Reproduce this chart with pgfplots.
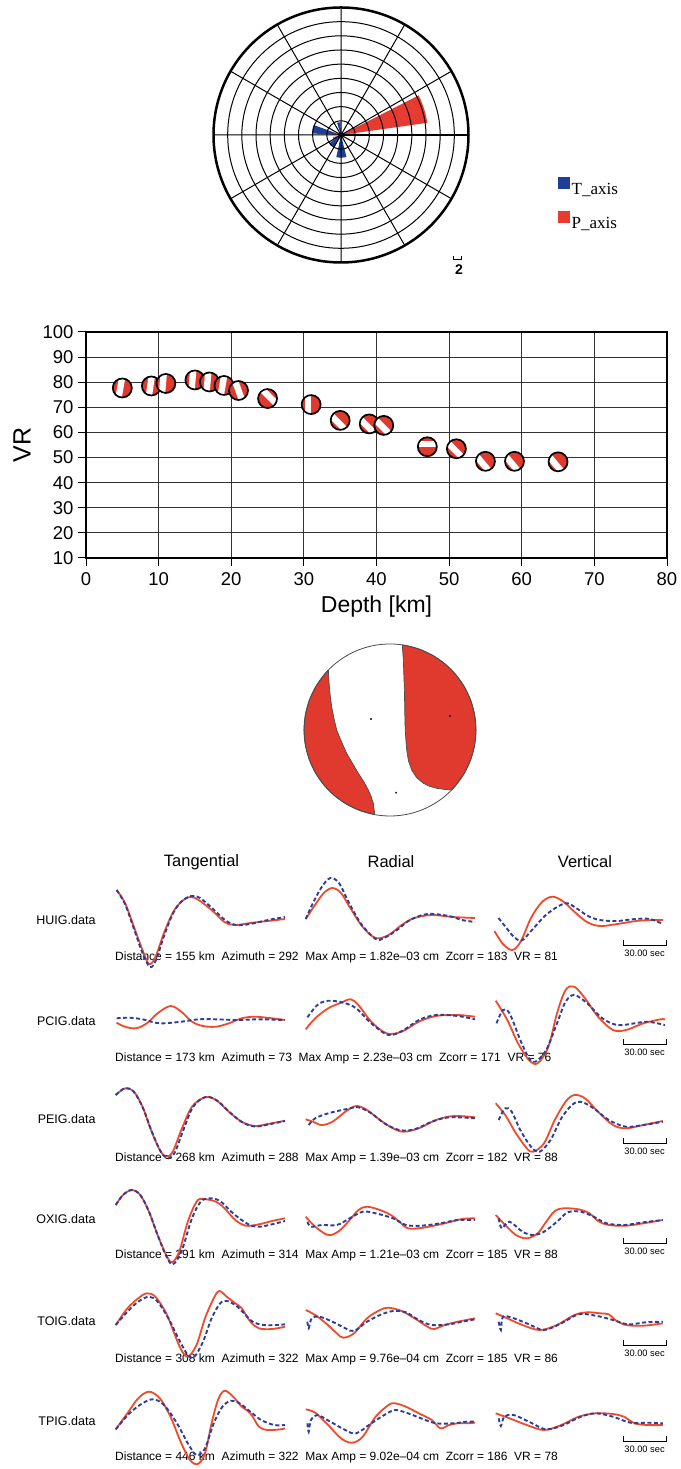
\documentclass[border=0pt]{standalone}
\usepackage{fontspec}
\setmainfont{Liberation Sans}
\newfontfamily\serif{Liberation Serif}
\usepackage{pgfplots}
\usepackage{pgfplotstable}
\pgfplotsset{compat=1.18}
\usepgfplotslibrary{polar}

\definecolor{bbred}{HTML}{E0392D}
\definecolor{pred}{HTML}{E53B31}
\definecolor{tblue}{HTML}{1F3E96}
\definecolor{wred}{HTML}{F04A2A}
\definecolor{wblue}{HTML}{2C3E9C}

% depth, VR, orientation of the white band (deg), band offset (pt)
\pgfplotstableread{
depth vr   rot off
5     77.7 -10 -2
9     78.5 -8  -1
11    79.5 -5  -3
15    80.9 -5  -2.5
17    80.1 -5  -2
19    78.7 -10 -1.5
21    76.7 20  0
25    73.5 45  2.5
31    71.1 0   -3
35    64.8 45  -3
39    63.4 45  -3
41    62.8 45  -2
47    54.3 90  2.5
51    53.5 45  -2
55    48.5 40  -3.5
59    48.5 40  -3.5
65    48.3 40  -3.5
}\balls

\def\bbrot{0}\def\bboff{0}
% small focal sphere: red disc, white band, black rim (pgf level only)
\pgfdeclareplotmark{bball}{%
  \begin{pgfscope}
    \pgfsetfillcolor{bbred}%
    \pgfpathcircle{\pgfpointorigin}{9.5pt}\pgfusepath{fill}%
    \begin{pgfscope}
      \pgfpathcircle{\pgfpointorigin}{9.5pt}\pgfusepath{clip}%
      \pgftransformrotate{\bbrot}%
      \pgfsetfillcolor{white}%
      \pgfpathrectanglecorners{\pgfpoint{\bboff pt-3.2pt}{-10pt}}{\pgfpoint{\bboff pt+3.2pt}{10pt}}%
      \pgfusepath{fill}%
    \end{pgfscope}
    \pgfsetstrokecolor{black}\pgfsetlinewidth{1.7pt}%
    \pgfpathcircle{\pgfpointorigin}{9.5pt}\pgfusepath{stroke}%
  \end{pgfscope}}

\def\gap{\hspace{0.56em}}
\newcommand\secbar[2]{%
  \draw[line width=0.8pt] (axis cs:623,#1) -- (axis cs:623,#2) -- (axis cs:666,#2) -- (axis cs:666,#1);}

\begin{document}
\begin{tikzpicture}
\path (0pt,0pt) rectangle (677pt,1469pt);

% ---- rose diagram
\begin{polaraxis}[
  at={(341pt,1334pt)}, anchor=center,
  scale only axis, width=255pt, height=255pt,
  ymin=0, ymax=9, ytick={1,...,8}, xtick={0,30,...,330},
  xticklabels={}, yticklabels={}, major tick length=0pt,
  grid=major, grid style={black,line width=1pt},
  axis line style={line width=2.5pt},
  axis on top,
  legend style={draw=none, fill=none, at={(axis description cs:1.35,0.335)},
    anchor=north west, font=\serif\fontsize{17}{17}\selectfont, row sep=13pt,
    inner sep=0pt},
  legend cell align=left,
  legend image code/.code={\fill[#1] (0pt,1pt) rectangle (11.7pt,12.7pt);},
]
\addplot[fill=tblue, draw=none] coordinates {(0,0) (160,2.05) (164,2.05) (168,2.05) (172,2.05) (177,2.05) (0,0)};
\addlegendentry{T\_axis}
\addplot[fill=pred, draw=none] coordinates {(0,0) (8,6.15) (11,6.15) (14,6.15) (17,6.15) (20,6.15) (23.5,6.15) (27,6.15) (0,0)};
\addlegendentry{P\_axis}
\addplot[fill=tblue, draw=none, forget plot] coordinates {(0,0) (258,1.6) (265,1.6) (271,1.6) (277,1.6) (284,1.6) (0,0)};
\addplot[fill=tblue, draw=none, forget plot] coordinates {(0,0) (215,1.0) (227,1.0) (240,1.0) (0,0)};
\addplot[fill=tblue, draw=none, forget plot] coordinates {(0,0) (92,0.9) (100,0.9) (108,0.9) (0,0)};
\addplot[fill=pred, draw=none, forget plot] coordinates {(0,0) (-5,0.95) (1,0.95) (8,0.95) (0,0)};
\addplot[fill=pred, draw=none, forget plot] coordinates {(0,0) (195,0.6) (204,0.6) (213,0.6) (0,0)};
\end{polaraxis}
\draw[line width=0.8pt] (453pt,1213pt) -- (453pt,1209.5pt) -- (461pt,1209.5pt) -- (461pt,1213pt);
\node[font=\bfseries\fontsize{14}{14}\selectfont] at (459pt,1199pt) {2};

% ---- VR versus depth
\begin{axis}[
  at={(86pt,911pt)}, anchor=south west,
  scale only axis, width=581pt, height=226pt,
  xmin=0, xmax=80, ymin=10, ymax=100,
  xtick={0,10,...,80}, ytick={10,20,...,100},
  xtick pos=left, ytick pos=left,
  grid=major, grid style={black!80,line width=1.1pt},
  axis line style={line width=2.5pt},
  tick align=outside, major tick length=8pt, tick style={black,line width=1pt},
  tick label style={font=\fontsize{18.5}{18.5}\selectfont},
  xticklabel style={yshift=-3pt},
  yticklabel style={xshift=-1pt},
  /pgf/number format/assume math mode=true,
  xlabel={Depth [km]}, ylabel={VR},
  xlabel style={font=\fontsize{23}{23}\selectfont, at={(axis description cs:0.5,-0.215)}, anchor=center},
  ylabel style={font=\fontsize{25}{25}\selectfont, at={(axis description cs:-0.11,0.5)}, anchor=center},
  clip=false,
]
\addplot[scatter, only marks, mark=bball,
  scatter/use mapped color={draw=black,fill=bbred},
  visualization depends on={\thisrow{rot}\as\bbrot},
  visualization depends on={\thisrow{off}\as\bboff}]
  table[x=depth,y=vr] {\balls};
\end{axis}

% ---- best mechanism
\begin{axis}[
  at={(390pt,739pt)}, anchor=center,
  scale only axis, width=172pt, height=172pt,
  xmin=-1, xmax=1, ymin=-1, ymax=1, hide axis, clip=false,
]
\addplot[fill=bbred, draw=black!70, line width=0.7pt] coordinates {
(0.143,0.988) (0.155,0.814) (0.161,0.64) (0.167,0.465) (0.171,0.27) (0.174,0.078)
(0.182,-0.08) (0.194,-0.233) (0.215,-0.36) (0.252,-0.465) (0.31,-0.555) (0.388,-0.620)
(0.46,-0.655) (0.543,-0.678) (0.63,-0.69) (0.717,-0.697) (0.766,-0.643) (0.866,-0.5)
(0.940,-0.342) (0.985,-0.174) (1,0) (0.985,0.174) (0.940,0.342) (0.866,0.5) (0.766,0.643)
(0.643,0.766) (0.5,0.866) (0.342,0.940) (0.174,0.985) (0.143,0.988)};
\addplot[fill=bbred, draw=black!70, line width=0.7pt] coordinates {
(-0.717,0.697) (-0.766,0.643) (-0.866,0.5) (-0.940,0.342) (-0.985,0.174) (-1,0)
(-0.985,-0.174) (-0.940,-0.342) (-0.866,-0.5) (-0.766,-0.643) (-0.643,-0.766) (-0.5,-0.866)
(-0.342,-0.940) (-0.177,-0.984) (-0.186,-0.92) (-0.194,-0.853) (-0.22,-0.77) (-0.252,-0.698)
(-0.305,-0.60) (-0.368,-0.504) (-0.436,-0.388) (-0.504,-0.271) (-0.565,-0.135) (-0.620,0)
(-0.652,0.135) (-0.678,0.271) (-0.694,0.39) (-0.705,0.504) (-0.712,0.60) (-0.717,0.697)};
\addplot[only marks, mark=o, mark size=86pt, black!70, line width=0.8pt] coordinates {(0,0)};
\addplot[only marks, mark=*, mark size=0.8pt, color=tblue!60!black] coordinates {(-0.221,0.128) (0.698,0.163) (0.07,-0.729)};
\end{axis}

% ---- waveforms (pixel coordinates of the page)
\begin{axis}[
  at={(0pt,0pt)}, anchor=south west,
  scale only axis, width=677pt, height=1469pt,
  xmin=0, xmax=677, ymin=0, ymax=1469, y dir=reverse,
  hide axis, clip=false,
  rs/.style={wred, line width=1.8pt, smooth, tension=0.55},
  bs/.style={wblue, line width=1.9pt, dash pattern=on 4pt off 2.5pt, smooth, tension=0.55},
]
\begin{scope}[every node/.style={font=\fontsize{16.5}{16.5}\selectfont}]
\node at (axis cs:201.5,862) {Tangential};
\node at (axis cs:391,862) {Radial};
\node at (axis cs:585,862) {Vertical};
\end{scope}
\begin{scope}[every node/.style={font=\fontsize{12.5}{12.5}\selectfont, anchor=east}]
\node at (axis cs:99,920) {HUIG.data};
\node at (axis cs:99,1021) {PCIG.data};
\node at (axis cs:99,1119) {PEIG.data};
\node at (axis cs:99,1219) {OXIG.data};
\node at (axis cs:99,1321) {TOIG.data};
\node at (axis cs:99,1421) {TPIG.data};
\end{scope}
\begin{scope}[every node/.style={font=\fontsize{12}{12}\selectfont, anchor=west, inner sep=0pt}]
\node at (axis cs:115,957) {Distance = 155 km\gap Azimuth = 292\gap Max Amp = 1.82e--03 cm\gap Zcorr = 183\gap VR = 81};
\node at (axis cs:115,1058) {Distance = 173 km\gap Azimuth = 73\gap Max Amp = 2.23e--03 cm\gap Zcorr = 171\gap VR = 76};
\node at (axis cs:115,1158) {Distance = 268 km\gap Azimuth = 288\gap Max Amp = 1.39e--03 cm\gap Zcorr = 182\gap VR = 88};
\node at (axis cs:115,1255) {Distance = 291 km\gap Azimuth = 314\gap Max Amp = 1.21e--03 cm\gap Zcorr = 185\gap VR = 88};
\node at (axis cs:115,1359) {Distance = 308 km\gap Azimuth = 322\gap Max Amp = 9.76e--04 cm\gap Zcorr = 185\gap VR = 86};
\node at (axis cs:115,1457) {Distance = 446 km\gap Azimuth = 322\gap Max Amp = 9.02e--04 cm\gap Zcorr = 186\gap VR = 78};
\end{scope}
\secbar{940}{945.5}\secbar{1039}{1044.5}\secbar{1138}{1143.5}\secbar{1238}{1243.5}\secbar{1340}{1345.5}\secbar{1436}{1441.5}
\begin{scope}[every node/.style={font=\fontsize{9.3}{9.3}\selectfont}]
\node at (axis cs:644.5,953) {30.00 sec};
\node at (axis cs:644.5,1052) {30.00 sec};
\node at (axis cs:644.5,1151) {30.00 sec};
\node at (axis cs:644.5,1251) {30.00 sec};
\node at (axis cs:644.5,1353) {30.00 sec};
\node at (axis cs:644.5,1449) {30.00 sec};
\end{scope}

% HUIG
\addplot[rs] coordinates {(116.6,890) (125,903) (134,927) (142.5,950) (149,964) (155.4,957) (164,933) (172.7,913) (181,902) (190,897) (198.6,900) (211.6,910) (224.5,922) (235,925) (250,923) (267.7,921) (285,919)};
\addplot[bs] coordinates {(116.6,890) (125,904) (134,929) (142.5,953) (150,967) (156,960) (164,936) (172.7,914) (181,902) (191,896) (200,898) (212,908) (225,920) (236,925) (250,924) (268,920) (285,917)};
\addplot[rs] coordinates {(305.7,919) (315,905) (323.8,893) (332.5,888) (341,893) (349.7,907) (362.7,927) (375.6,938) (388.6,935) (401.6,925) (414.5,918) (431.8,915) (453,917) (475,918)};
\addplot[bs] coordinates {(305.7,919) (313,903) (321.7,887) (330.3,878) (339,883) (347.6,900) (360.5,923) (375.6,939) (384,938) (397,930) (410,920) (427.5,914) (449,916) (462,920) (475,922)};
\addplot[rs] coordinates {(494.4,931) (503,944) (512.5,950) (521,941) (531,918) (542,902) (552.5,896.7) (563.5,901.7) (574.3,911.7) (587,922) (600,926) (617.4,924) (639,920.7) (663,920)};
\addplot[bs] coordinates {(498.5,918) (507.3,929) (514,937) (521.7,940.5) (532,930) (547,914) (565,903.3) (576,908) (588,916) (600,920) (617,921) (635,919) (650,919) (662.8,924)};
% PCIG
\addplot[rs] coordinates {(116.6,1022.7) (125,1026.7) (136,1028.3) (146.8,1023.3) (157.6,1013.3) (170.5,1006) (181.3,1011.7) (192,1021.7) (203,1026) (216,1026.7) (228.8,1023.3) (241.8,1018.3) (254.7,1016.7) (272,1018.3) (285,1020)};
\addplot[bs] coordinates {(116.6,1018.3) (129.5,1017.7) (142.5,1019.3) (155.4,1022.7) (164,1023.3) (181.3,1021.7) (198.6,1019.3) (216,1019.3) (237.5,1020) (259,1019.3) (285,1020)};
\addplot[rs] coordinates {(305.7,1029.3) (315.2,1018.3) (328.2,1008.3) (341,1002.7) (350.6,999.3) (358.4,1005) (371.3,1021.7) (386.4,1033.3) (401.6,1031.7) (418.8,1021.7) (436,1016) (457.7,1015) (475,1016.7)};
\addplot[bs] coordinates {(307.4,1017.3) (317.4,1005) (328.2,1000.7) (343.3,1002.7) (356.2,1008.3) (371.3,1023.3) (388.6,1035) (403.7,1030) (418.8,1020) (436,1015) (457.7,1016) (475,1019.3)};
\addplot[rs] coordinates {(495.7,1000.7) (507.3,1020) (518,1043.3) (529,1060) (537.6,1063.3) (548.4,1046.7) (557,1013.3) (565.6,990) (574.3,986.7) (585,998.3) (598,1016.7) (613,1030) (626,1030) (643.3,1023.3) (660.6,1019.3) (665,1019.5)};
\addplot[bs] coordinates {(496.5,1023.3) (503,1010) (509.5,1013.3) (520.3,1040) (529,1058.3) (535.4,1061.7) (546.2,1050) (557,1023.3) (565.6,1001.7) (574.3,995) (587.2,1003.3) (602.3,1018.3) (617.4,1025) (634.7,1023.3) (647.7,1021.7) (665,1025)};
% PEIG
\addplot[rs] coordinates {(115.7,1095) (125.2,1088.3) (133.8,1091.7) (142.5,1106.7) (151,1130) (159.8,1150) (166.2,1156.7) (172.7,1151.7) (181.3,1130) (192,1106.7) (205,1097.3) (216,1100) (228.8,1111.7) (241.8,1121.7) (254.7,1126) (267.7,1124) (285,1120.7)};
\addplot[bs] coordinates {(115.7,1095) (125.2,1088) (134,1092) (143,1108) (152,1132) (161,1152) (168.5,1158.3) (175,1152) (183,1131) (193,1107) (205.5,1097) (217,1100.5) (229.5,1112) (242.5,1122.5) (255,1126.5) (268,1124.5) (285,1121)};
\addplot[rs] coordinates {(305.7,1119.3) (313,1121.7) (321.7,1125) (332.5,1121.7) (345.4,1111.7) (356.2,1106) (367,1110) (380,1120) (393,1128.3) (403.7,1131.7) (418.8,1128.3) (436,1120) (453.4,1116) (475,1117.3)};
\addplot[bs] coordinates {(308.7,1125) (315.2,1118.3) (328.2,1113.3) (345.4,1109.3) (358.4,1107.3) (371.3,1113.3) (384.3,1123.3) (399.4,1130) (414.5,1129.3) (431.8,1121.7) (449,1117.3) (475,1118.3)};
\addplot[rs] coordinates {(495.7,1103.3) (505.2,1115) (516,1133.3) (526.8,1148.3) (533.2,1151.7) (544,1143.3) (554.8,1120) (565.6,1101.7) (574.3,1095) (585,1098.3) (598,1111.7) (613,1125) (626,1128.3) (643.3,1125) (662.8,1121)};
\addplot[bs] coordinates {(498.7,1120) (505.2,1108.3) (511.7,1111.7) (520.3,1130) (531,1146.7) (539.7,1151.7) (550.5,1140) (561.3,1118.3) (572,1105) (580.7,1101.7) (593.7,1108.3) (608.8,1120) (626,1126.7) (643.3,1125) (662.8,1121.7)};
% OXIG
\addplot[rs] coordinates {(115.7,1205) (123,1195) (131.7,1190) (140.3,1195) (149,1211.7) (157.6,1235) (166.2,1255) (171.9,1262.3) (179.2,1251.7) (187.8,1221.7) (196.5,1201.7) (203,1199) (216,1201.7) (224.5,1208.3) (235.3,1220) (246,1225.7) (259,1224.3) (272,1221) (285,1218.3)};
\addplot[bs] coordinates {(115.7,1205) (123,1195) (131.7,1190) (140.3,1195) (149,1211.7) (157.6,1235) (166.2,1256) (172.7,1264.3) (181.3,1251.7) (192,1218.3) (200.8,1201.7) (209.4,1198.3) (220,1201) (233,1213.3) (248.3,1224.3) (259,1226.7) (272,1224.3) (285,1221)};
\addplot[rs] coordinates {(305.7,1216.7) (315.2,1226.7) (328.2,1235) (339,1231) (349.7,1220) (358.4,1210) (367,1206.7) (380,1210) (390.8,1215) (399.4,1221.7) (408,1228.3) (423,1227.7) (444.7,1223.3) (462,1219) (475,1218.3)};
\addplot[bs] coordinates {(307.4,1221.7) (311,1226.7) (321.7,1225) (336.8,1225) (349.7,1218.3) (362.7,1211.7) (375.6,1213.3) (393,1218.3) (405.9,1225) (421,1225.7) (440.4,1223.3) (457.7,1220) (475,1220)};
\addplot[rs] coordinates {(495.7,1215) (505.2,1225) (516,1235) (526.8,1238.3) (537.6,1233.3) (546.2,1221.7) (554.8,1211) (563.5,1208.3) (578.6,1209.3) (589.4,1213.3) (598,1221) (608.8,1225) (626,1225.7) (643.3,1223.3) (662.8,1220)};
\addplot[bs] coordinates {(498.7,1218.3) (501.7,1228.3) (509.5,1221.7) (522.5,1231.7) (533.2,1235) (544,1231.7) (557,1221.7) (567.8,1212.3) (580.7,1211.7) (593.7,1216.7) (606.6,1223.3) (624,1225) (643.3,1222.3) (662.8,1220)};
% TOIG
\addplot[rs] coordinates {(115.7,1325) (127.4,1308.3) (138.2,1298.3) (146.8,1293.3) (155.4,1296.7) (166.2,1313.3) (174.9,1335) (181.3,1350) (187.8,1356.7) (196.5,1345) (205,1318.3) (213.7,1298.3) (219.3,1291) (226.7,1296.7) (235.3,1303.3) (241.8,1308.3) (250.4,1321.7) (259,1328.3) (272,1329) (285,1326.7)};
\addplot[bs] coordinates {(115.7,1325) (127.4,1311.7) (138.2,1301.7) (149,1296.7) (157.6,1301.7) (168.4,1318.3) (179.2,1340) (187.8,1355) (194.3,1356.7) (203,1341.7) (211.6,1318.3) (220.2,1303.3) (226.7,1301) (235.3,1305) (244,1313.3) (252.6,1321.7) (263.4,1325) (276.3,1325) (285,1324.3)};
\addplot[rs] coordinates {(305.7,1310) (315.2,1315) (326,1323.3) (336.8,1333.3) (343.3,1337.7) (354,1333.3) (367,1318.3) (380,1310) (388.6,1307.7) (401.6,1311) (414.5,1318.3) (427.5,1326.7) (434,1329) (444.7,1325) (457.7,1321.7) (475,1318.3)};
\addplot[bs] coordinates {(307.4,1321.7) (308.7,1328.3) (311.7,1318.3) (319.5,1316.7) (332.5,1321.7) (345.4,1328.3) (354,1331) (367,1321.7) (380,1315) (393,1311) (405.9,1312.3) (418.8,1320) (431.8,1325) (449,1324.3) (462,1321.7) (475,1319.3)};
\addplot[rs] coordinates {(495.7,1313.3) (507.3,1318.3) (522.5,1325) (539.7,1330) (557,1325) (574.3,1315) (587.2,1312.3) (600,1313.3) (608.8,1314.3) (615.3,1320) (626,1325) (643.3,1325.7) (662.8,1323.3)};
\addplot[bs] coordinates {(498.7,1321.7) (500.9,1330) (503,1316.7) (513.8,1318.3) (529,1324.3) (544,1330) (561.3,1323.3) (578.6,1314.3) (595.8,1315.7) (613,1320) (628.2,1324.3) (645.5,1322.3) (662.8,1321.7)};
% TPIG
\addplot[rs] coordinates {(115.7,1429.3) (127.4,1413.3) (138.2,1398.3) (149,1391.7) (159.8,1398.3) (170.5,1416.7) (181.3,1443.3) (190,1460) (197.8,1464) (205,1453.3) (211.6,1423.3) (218,1400) (224.5,1390.7) (233.2,1396.7) (241.8,1406.7) (250.4,1413.3) (259,1426.7) (267.7,1430) (280.7,1429.3) (285,1428.3)};
\addplot[bs] coordinates {(115.7,1429.3) (129.5,1413.3) (142.5,1403.3) (153.3,1399.3) (164,1405) (177,1423.3) (187.8,1443.3) (196.5,1455) (205,1448.3) (213.7,1423.3) (222.4,1406.7) (231,1400.7) (239.6,1403.3) (250.4,1411.7) (261.2,1420) (274.2,1425) (285,1425)};
\addplot[rs] coordinates {(305.7,1409.3) (315.2,1412.7) (328.2,1425) (341,1438.3) (352,1442.7) (362.7,1436.7) (375.6,1416.7) (388.6,1405) (395,1403.3) (405.9,1406.7) (418.8,1413.3) (431.8,1420) (440.4,1428.3) (449,1425) (457.7,1423.3) (466.3,1423.3) (475,1422.7)};
\addplot[bs] coordinates {(307.4,1423.3) (308.7,1431.7) (310.9,1420) (317.4,1415) (330.3,1421.7) (345.4,1430) (356.2,1433.3) (371.3,1423.3) (384.3,1415) (395,1410) (408,1413.3) (421,1418.3) (436,1423.3) (453.4,1423.3) (466.3,1421.7) (475,1421.7)};
\addplot[rs] coordinates {(495.7,1413.3) (509.5,1418.3) (526.8,1425) (544,1430) (561.3,1425) (578.6,1416.7) (595.8,1413.3) (613,1414) (624,1416.7) (634.7,1423.3) (647.7,1425) (662.8,1425)};
\addplot[bs] coordinates {(498.7,1418.3) (500.9,1426) (504.3,1416.7) (513.8,1415) (531,1422.7) (546.2,1429.3) (563.5,1425) (580.7,1416.7) (595.8,1413.3) (613,1416.7) (630.4,1422.7) (647.7,1422.7) (662.8,1423.3)};
\end{axis}
\end{tikzpicture}
\end{document}
